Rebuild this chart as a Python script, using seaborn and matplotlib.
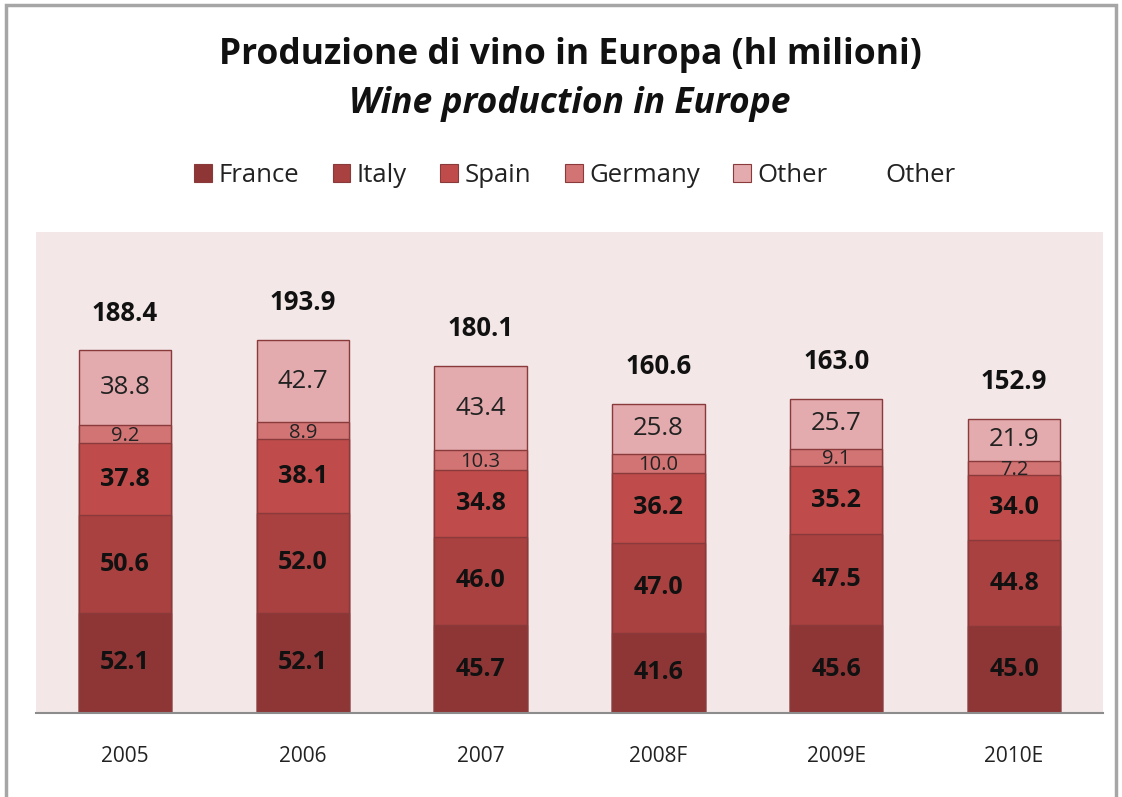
import matplotlib
matplotlib.use("Agg")
import matplotlib.pyplot as plt
from matplotlib.patches import Patch, Rectangle
import numpy as np
import pandas as pd
import seaborn as sns

years = ["2005", "2006", "2007", "2008F", "2009E", "2010E"]
france = [52.1, 52.1, 45.7, 41.6, 45.6, 45.0]
italy = [50.6, 52.0, 46.0, 47.0, 47.5, 44.8]
spain = [37.8, 38.1, 34.8, 36.2, 35.2, 34.0]
germany = [9.2, 8.9, 10.3, 10.0, 9.1, 7.2]
other = [38.8, 42.7, 43.4, 25.8, 25.7, 21.9]
totals = [188.4, 193.9, 180.1, 160.6, 163.0, 152.9]

series_names = ["France", "Italy", "Spain", "Germany", "Other"]
series_values = [france, italy, spain, germany, other]
colors = ["#8E3636", "#A8413F", "#BF4C4A", "#D27474", "#E3ABAD"]
edge = "#8A3A3A"
bg = "#F3E7E7"

sns.set_theme(style="white")
plt.rcParams["font.family"] = ["Open Sans", "DejaVu Sans"]

fig = plt.figure(figsize=(11.22, 7.97), dpi=100)
ax = fig.add_axes([36 / 1122, 1 - 713 / 797, (1103 - 36) / 1122, (713 - 232) / 797])
ax.set_facecolor(bg)

# lower and upper edge of every stacked segment
layers = []
cum = np.zeros(len(years))
for vals in series_values:
    lo = cum.copy()
    cum = cum + np.array(vals)
    layers.append((lo, cum.copy()))

# draw cumulative stacks from the top layer down so lower layers overlay
for (lo, hi), name, col in reversed(list(zip(layers, series_names, colors))):
    d = pd.DataFrame({"year": years, "h": hi})
    sns.barplot(data=d, x="year", y="h", color=col, width=0.52, saturation=1,
                edgecolor=edge, linewidth=1.0, ax=ax, errorbar=None)

# segment labels
for i in range(len(years)):
    for k, (vals, (lo, hi)) in enumerate(zip(series_values, layers)):
        mid = (lo[i] + hi[i]) / 2
        if k < 3:
            ax.text(i, mid, f"{vals[i]:.1f}", ha="center", va="center",
                    fontsize=18, fontweight="bold", color="#111111")
        elif k == 3:
            ax.text(i, mid - 1.0, f"{vals[i]:.1f}", ha="center", va="center",
                    fontsize=14.5, color="#222222")
        else:
            ax.text(i, mid, f"{vals[i]:.1f}", ha="center", va="center",
                    fontsize=18.5, color="#222222")
    ax.annotate(f"{totals[i]:.1f}", xy=(i, totals[i]), xytext=(0, 27),
                textcoords="offset points", ha="center", va="center",
                fontsize=18.5, fontweight="bold", color="#111111")

ax.set_xlim(-0.5, len(years) - 0.5)
ax.set_ylim(0, 250)
ax.set_yticks([])
ax.set_xlabel("")
ax.set_ylabel("")
for s in ["top", "left", "right"]:
    ax.spines[s].set_visible(False)
ax.spines["bottom"].set_color("#8C8C8C")
ax.spines["bottom"].set_linewidth(1.5)
ax.tick_params(axis="x", length=0, pad=24, labelsize=15, labelcolor="#222222")

# title
fig.text(570 / 1122, 1 - 55 / 797, "Produzione di vino in Europa (hl milioni)",
         ha="center", va="center", fontsize=25.5, fontweight="bold", color="#111111")
fig.text(570 / 1122, 1 - 104 / 797, "Wine production in Europe",
         ha="center", va="center", fontsize=25.5, fontweight="bold",
         fontstyle="italic", color="#111111")

# legend
handles = [Patch(facecolor=c, edgecolor=edge, linewidth=0.8) for c in colors]
handles.append(Patch(facecolor="none", edgecolor="none"))
labels = series_names + ["Other"]
fig.legend(handles, labels, loc="center", bbox_to_anchor=(575 / 1122, 1 - 175 / 797),
           ncol=6, frameon=False, fontsize=18.5, handlelength=0.7, handleheight=0.7,
           handletextpad=0.25, columnspacing=1.3, labelcolor="#222222")

# outer frame
fig.add_artist(Rectangle((6 / 1122, -0.05), (1116 - 6) / 1122, 1 - 5 / 797 + 0.05,
                         transform=fig.transFigure, fill=False,
                         edgecolor="#A6A6A6", linewidth=2.5))

fig.savefig("out.png", dpi=100)
